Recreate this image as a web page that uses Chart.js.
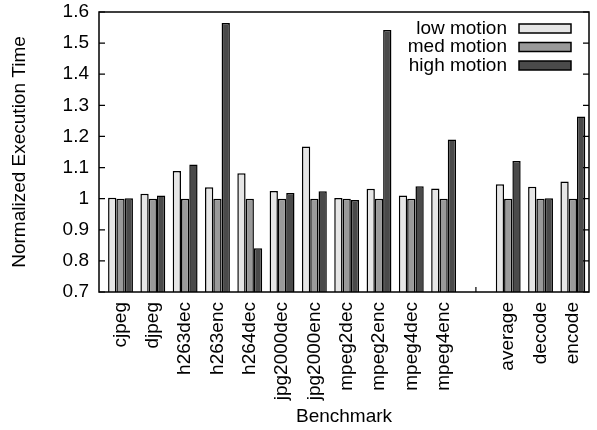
<!DOCTYPE html>
<html>
<head>
<meta charset="utf-8">
<script src="https://cdn.jsdelivr.net/npm/chart.js@4.4.0/dist/chart.umd.min.js"></script>
<style>
  html, body { margin: 0; padding: 0; background: #fff; }
  #wrap { width: 597px; height: 430px; }
</style>
</head>
<body>
<div id="wrap"><canvas id="bench"></canvas></div>
<script>
// benchmarks, with an empty slot before the summary groups
const categories = ["cjpeg", "djpeg", "h263dec", "h263enc", "h264dec", "jpg2000dec", "jpg2000enc",
  "mpeg2dec", "mpeg2enc", "mpeg4dec", "mpeg4enc", "", "average", "decode", "encode"];

const lowMotion  = [1.003, 1.016, 1.089, 1.037, 1.082, 1.025, 1.168, 1.002, 1.032, 1.010, 1.033, null, 1.046, 1.038, 1.055];
const medMotion  = [1.000, 1.000, 1.000, 1.000, 1.000, 1.000, 1.000, 1.000, 1.000, 1.000, 1.000, null, 1.000, 1.000, 1.000];
const highMotion = [1.001, 1.010, 1.110, 1.565, 0.841, 1.018, 1.024, 0.996, 1.542, 1.040, 1.190, null, 1.121, 1.001, 1.264];

const seriesNames = ["low motion", "med motion", "high motion"];
const seriesColors = ["#e6e6e6", "#9a9a9a", "#4a4a4a"];
const yTicks = [0.7, 0.8, 0.9, 1.0, 1.1, 1.2, 1.3, 1.4, 1.5, 1.6];

const FONT = "'Liberation Sans', Arial, Helvetica, sans-serif";
Chart.defaults.font.family = FONT;
Chart.defaults.font.size = 19;
Chart.defaults.color = "#000";

const toPoints = arr => arr.map((v, i) => ({x: i, y: v}));

// gnuplot-ish frame, inward ticks and key
const frame = {
  id: 'frame',
  beforeDatasetsDraw(chart) {
    const {ctx, chartArea: {bottom}, scales: {x}} = chart;
    ctx.save();
    ctx.strokeStyle = '#000';
    ctx.lineWidth = 1.2;
    categories.forEach((c, i) => {
      const px = x.getPixelForValue(i);
      ctx.beginPath();
      ctx.moveTo(px, bottom);
      ctx.lineTo(px, bottom - 5);
      ctx.stroke();
    });
    ctx.restore();
  },
  afterDraw(chart) {
    const {ctx, chartArea: {top, bottom, left, right}, scales: {y}} = chart;
    ctx.save();
    ctx.strokeStyle = '#000';
    ctx.lineWidth = 1.2;
    yTicks.forEach(v => {
      const py = y.getPixelForValue(v);
      ctx.beginPath();
      ctx.moveTo(left, py); ctx.lineTo(left + 6, py);
      ctx.moveTo(right, py); ctx.lineTo(right - 6, py);
      ctx.stroke();
    });
    ctx.lineWidth = 1.5;
    ctx.strokeRect(left, top, right - left, bottom - top);

    // key
    ctx.font = '19px ' + FONT;
    ctx.textAlign = 'right';
    ctx.textBaseline = 'middle';
    seriesNames.forEach((name, i) => {
      const cy = top + 16.5 + i * 18.5;
      ctx.fillStyle = '#000';
      ctx.fillText(name, right - 82, cy);
      ctx.fillStyle = seriesColors[i];
      ctx.fillRect(right - 70, cy - 4.5, 52, 9);
      ctx.lineWidth = 1.5;
      ctx.strokeRect(right - 70, cy - 4.5, 52, 9);
    });
    ctx.restore();
  }
};

const data = {
  datasets: [lowMotion, medMotion, highMotion].map((vals, i) => ({
    label: seriesNames[i],
    data: toPoints(vals),
    backgroundColor: seriesColors[i],
    borderColor: '#000',
    borderWidth: 1.5,
    categoryPercentage: 0.77,
    barPercentage: 1.0
  }))
};

const config = {
  type: 'bar',
  data: data,
  options: {
    responsive: true,
    maintainAspectRatio: false,
    animation: false,
    layout: {padding: {top: 12, right: 8, left: 0, bottom: 0}},
    plugins: {
      legend: {display: false},
      tooltip: {enabled: false}
    },
    scales: {
      x: {
        type: 'linear',
        offset: false,
        min: -0.666,
        max: 14.5,
        grid: {display: false, drawTicks: false},
        border: {display: false},
        afterBuildTicks: s => { s.ticks = categories.map((c, i) => ({value: i})); },
        afterFit: s => { s.height = 138; s.paddingLeft = 0; s.paddingRight = 0; },
        ticks: {
          autoSkip: false,
          minRotation: 90,
          maxRotation: 90,
          padding: 10,
          callback: v => categories[v]
        },
        title: {display: true, text: 'Benchmark', padding: {top: 0, bottom: 2}}
      },
      y: {
        min: 0.7,
        max: 1.6,
        grid: {display: false, drawTicks: false},
        border: {display: false},
        afterBuildTicks: s => { s.ticks = yTicks.map(v => ({value: v})); },
        afterFit: s => { s.width = 99; s.paddingTop = 0; s.paddingBottom = 0; },
        ticks: {
          padding: 10,
          callback: v => String(+v.toFixed(1))
        },
        title: {display: true, text: 'Normalized Execution Time', padding: {top: 8, bottom: 0}}
      }
    }
  },
  plugins: [frame]
};

const benchChart = new Chart(document.getElementById('bench'), config);
</script>
</body>
</html>
